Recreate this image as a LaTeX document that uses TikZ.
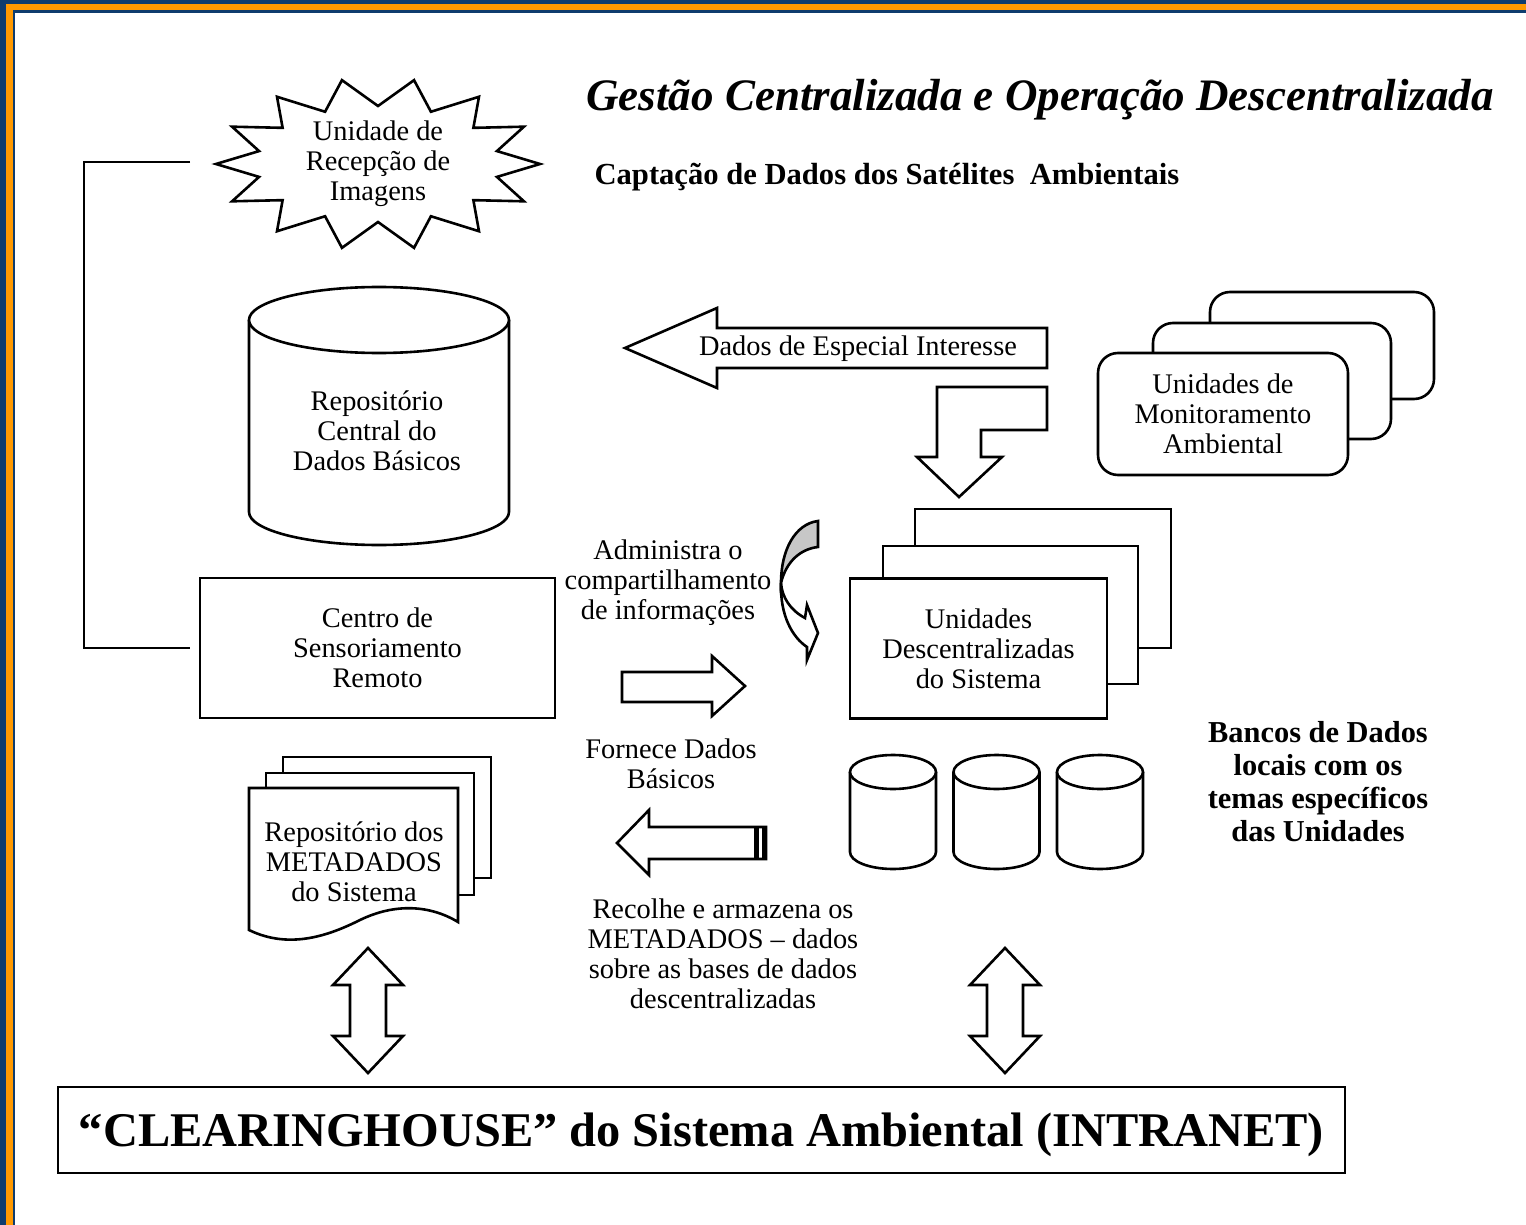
\documentclass[tikz,border=0pt]{standalone}
\usepackage{fontspec}
\setmainfont{Liberation Serif}
\definecolor{navy}{RGB}{14,60,110}
\definecolor{borange}{RGB}{255,153,0}
\begin{document}
\begin{tikzpicture}[x=0.5pt,y=-0.5pt, line width=1.3pt, line join=miter,
  body/.style={font=\fontsize{14.2}{15}\selectfont, align=center, inner sep=0pt},
  boldtxt/.style={font=\bfseries\fontsize{15.2}{16.5}\selectfont, align=center, inner sep=0pt},
  shp/.style={draw, fill=white}]
\useasboundingbox (0,0) rectangle (1526,1225);
% frame
\fill[navy] (0,0) rectangle (15,1225);
\fill[navy] (0,0) rectangle (1526,13);
\fill[borange] (6,4) rectangle (12.5,1225);
\fill[borange] (6,4) rectangle (1526,10.5);

% titles
\node[inner sep=0pt, font=\bfseries\itshape\fontsize{22.5}{26}\selectfont] (title) at (1040,100) {Gestão Centralizada e Operação Descentralizada};
\node[inner sep=0pt, font=\bfseries\fontsize{15.3}{18}\selectfont] (subtitle) at (887,177) {Captação de Dados dos Satélites \ Ambientais};

% starburst
\draw[shp] plot[samples at={0,...,27}] ({378+ifthenelse(mod(\x,2)==0,162,122)*cos(\x*360/28)}, {164+ifthenelse(mod(\x,2)==0,86,58)*sin(\x*360/28)}) -- cycle;
\node[body] (recep) at (378,164) {Unidade de\\Recepção de\\Imagens};

% bracket line
\coordinate (bt) at (190,162);
\coordinate (bb) at (190,648);
\draw (bt) -- ++(-106,0) |- (bb);

% big cylinder
\draw[shp] (249,320) -- (249,512) arc[start angle=180, end angle=0, x radius=130, y radius=33] -- (509,320);
\draw[shp] (379,320) ellipse [x radius=130, y radius=33];
\node[body] (repo) at (377,431) {Repositório\\Central do\\Dados Básicos};

% centro box
\node[draw, minimum width=177.5pt, minimum height=70pt, body] (centro) at (377.5,648) {Centro de\\Sensoriamento\\Remoto};

% document stack
\draw[shp] (283,757) rectangle (491,878);
\draw[shp] (266,773) rectangle (474,895);
\draw[shp] (249,930) .. controls (290,950) and (330,935) .. (360,920) .. controls (395,903) and (430,905) .. (458,922) -- (458,788) -- (249,788) -- cycle;
\node[body] (meta) at (354,862) {Repositório dos\\METADADOS\\do Sistema};

% double arrows
\foreach \cx in {368,1005}{
  \draw[shp] (\cx,948) -- ++(35,37) -- ++(-17,0) -- ++(0,51) -- ++(17,0) -- (\cx,1073) -- ++(-35,-37) -- ++(17,0) -- ++(0,-51) -- ++(-17,0) -- cycle;
}

% clearinghouse
\node[draw, minimum width=643.5pt, minimum height=43pt, inner sep=0pt, text depth=0pt, font=\bfseries\fontsize{24.2}{28}\selectfont] (clear) at (701.5,1130) {“CLEARINGHOUSE” do Sistema Ambiental (INTRANET)};

% left arrow Dados de Especial Interesse
\draw[shp] (625,348) -- (717,308) -- (717,328) -- (1047,328) -- (1047,368) -- (717,368) -- (717,388) -- cycle;
\node[body] (esp) at (858,349) {Dados de Especial Interesse};

% bent down arrow
\draw[shp] (937,387) -- (1047,387) -- (1047,430) -- (981,430) -- (981,457) -- (1002,457) -- (959,497) -- (917,457) -- (937,457) -- cycle;

% monitoring stack
\draw[shp, rounded corners=10pt] (1210,292) rectangle (1434,399);
\draw[shp, rounded corners=10pt] (1153,323) rectangle (1391,439);
\node[draw, fill=white, rounded corners=10pt, minimum width=125pt, minimum height=61pt, body] (monit) at (1223,414) {Unidades de\\Monitoramento\\Ambiental};

% descentralized stack
\draw[shp] (915,509) rectangle (1171,648);
\draw[shp] (883,546) rectangle (1138,684);
\node[draw, fill=white, minimum width=128.5pt, minimum height=70pt, body] (desc) at (978.5,648.5) {Unidades\\Descentralizadas\\do Sistema};

% curved arrow
\draw[fill=black!22] (818,521) .. controls (795,524) and (781,550) .. (781,583) .. controls (786,562) and (800,549) .. (818,547) -- cycle;
\draw[fill=white] (781,583) .. controls (780,615) and (792,637) .. (807,647) -- (807,660) -- (818,633) -- (807,605) -- (805,618) .. controls (790,610) and (782,597) .. (781,583) -- cycle;

% admin text
\node[body] (admin) at (668,583) {Administra o\\compartilhamento\\de informações};

% right arrow
\draw[shp] (622,672) -- (712,672) -- (712,656) -- (745,686) -- (712,716) -- (712,702) -- (622,702) -- cycle;
\node[body] (forn) at (671,764) {Fornece Dados\\Básicos};

% striped left arrow
\draw[shp] (617,843) -- (649,810) -- (649,827) -- (766,827) -- (766,859) -- (649,859) -- (649,875) -- cycle;
\fill (754,827) rectangle (759,859);
\fill (761.5,827) rectangle (766,859);
\node[body] (recol) at (723,954) {Recolhe e armazena os\\METADADOS – dados\\sobre as bases de dados\\descentralizadas};

% small cylinders
\foreach \cx/\nm in {893/ca,996.5/cb,1100/cc}{
  \draw[shp] (\cx-43,772) -- (\cx-43,852) arc[start angle=180, end angle=0, x radius=43, y radius=17] -- (\cx+43,772);
  \draw[shp] (\cx,772) ellipse [x radius=43, y radius=17];
  \coordinate (\nm) at (\cx,812);
}

% bancos text
\node[boldtxt] (bancos) at (1318,782) {Bancos de Dados\\locais com os\\temas específicos\\das Unidades};
\end{tikzpicture}
\end{document}
